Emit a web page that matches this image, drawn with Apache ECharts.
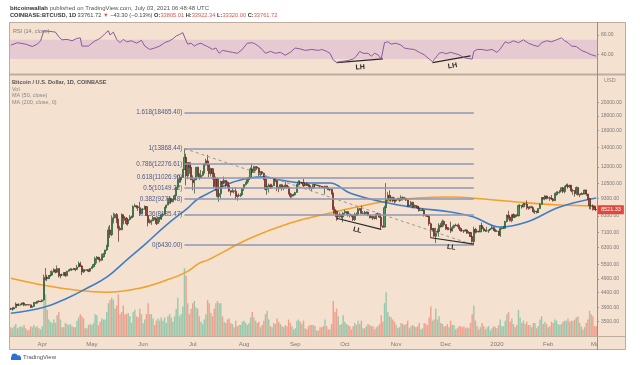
<!DOCTYPE html>
<html><head><meta charset="utf-8">
<script src="https://cdn.jsdelivr.net/npm/echarts@6/dist/echarts.min.js"></script>
<style>html,body{margin:0;padding:0;background:#fff}#c{width:640px;height:365px}</style>
</head><body><div id="c"></div>
<script>
// Daily candles [open, close, low, high], first day 2019-03-13
const candlesMar19 = [[3870,3860,3830,3900],[3860,3860,3810,3920],[3860,3900,3855,3930],[3900,4010,3895,4070],[4010,3980,3960,4015],[3980,3985,3950,4035],[3985,4020,3970,4030],[4020,4050,4000,4060],[4050,3980,3950,4070],[3980,3995,3965,4010],[3995,4000,3980,4010],[4000,3990,3970,4005],[3990,3915,3890,3995],[3915,3940,3905,3950],[3940,4070,3935,4080],[4070,4045,4030,4075],[4045,4105,4040,4120],[4105,4095,4070,4145],[4095,4105,4085,4115]];
const candlesApr19 = [[4105,4145,4080,4160],[4145,4905,4140,5080],[4905,4975,4850,5350],[4975,4915,4820,5070],[4915,5040,4905,5060],[5040,5060,4990,5230],[5060,5200,5050,5260],[5200,5280,5170,5345],[5280,5180,5130,5290],[5180,5330,5160,5465],[5330,5030,4960,5340],[5030,5075,4930,5100],[5075,5070,5040,5120],[5070,5160,5030,5180],[5160,5030,4990,5190],[5030,5220,5020,5230],[5220,5260,5210,5290],[5260,5300,5255,5350],[5300,5280,5230,5340],[5280,5330,5270,5360],[5330,5290,5220,5340],[5290,5400,5275,5490],[5400,5540,5390,5640],[5540,5440,5400,5630],[5440,5190,5060,5490],[5190,5270,5150,5310],[5270,5260,5240,5300],[5260,5280,5235,5300],[5280,5220,5180,5290],[5220,5330,5210,5350]];
const candlesMay19 = [[5330,5400,5320,5420],[5400,5500,5390,5540],[5500,5780,5490,5860],[5780,5830,5550,5890],[5830,5740,5700,5850],[5740,5690,5600,5760],[5690,5850,5680,6000],[5850,5990,5820,6040],[5990,6180,5980,6190],[6180,6350,6140,6450],[6350,7250,6340,7450],[7250,6980,6800,7540],[6980,7810,6900,8150],[7810,7990,7640,8320],[7990,8200,7960,8270],[8200,7880,7650,8300],[7880,7350,6600,7940],[7350,7260,7220,7490],[7260,8190,7250,8280],[8190,7980,7580,8200],[7980,7950,7800,8100],[7950,7630,7550,8040],[7630,7880,7500,7950],[7880,7990,7820,8170],[7990,8050,7970,8130],[8050,8740,8000,8830],[8740,8790,8690,8940],[8790,8720,8600,8820],[8720,8660,8440,8740],[8660,8280,8100,9080],[8280,8550,8220,8580]];
const candlesJun19 = [[8550,8560,8460,8630],[8560,8740,8540,8820],[8740,8150,8100,8750],[8150,7690,7460,8150],[7690,7800,7620,7920],[7800,7800,7550,7880],[7800,8000,7780,8120],[8000,7930,7830,8040],[7930,7630,7540,7960],[7630,8020,7590,8050],[8020,7920,7710,8050],[7920,8180,7850,8250],[8180,8230,8030,8310],[8230,8690,8160,8700],[8690,8840,8620,8860],[8840,8980,8830,9390],[8980,9320,8980,9460],[9320,9080,8950,9330],[9080,9270,9040,9300],[9270,9530,9210,9600],[9530,10200,9530,10230],[10200,10700,10000,11200],[10700,10850,10560,11250],[10850,11020,10560,11080],[11020,11750,10990,11800],[11750,12930,11700,13868.44],[12930,11160,10350,13300],[11160,12400,10850,12450],[12400,11960,11350,12400],[11960,10820,10800,12190]];
const candlesJul19 = [[10820,10580,9950,11200],[10580,10800,9700,10930],[10800,11960,10800,11970],[11960,11220,11080,12000],[11220,10980,10820,11400],[10980,11210,10980,11700],[11210,11450,11120,11600],[11450,12290,11370,12330],[12290,12570,12120,12800],[12570,12160,11600,13200],[12160,11360,11050,12160],[11360,11820,11100,11900],[11820,11390,10850,11840],[11390,10260,10160,11450],[10260,10900,9900,11100],[10900,9480,9380,11000],[9480,9690,9080,9930],[9690,10660,9300,10750],[10660,10530,10150,10750],[10530,10770,10430,11100],[10770,10600,10150,10800],[10600,10340,10100,10680],[10340,9900,9830,10350],[9900,9810,9530,9930],[9810,9910,9790,10180],[9910,9870,9700,9930],[9870,9480,9230,10190],[9480,9550,9160,9610],[9550,9520,9430,9710],[9520,9600,9420,9730],[9600,10090,9600,10120]];
const candlesAug19 = [[10090,10410,9900,10450],[10410,10530,10330,10660],[10530,10820,10510,10930],[10820,10980,10590,11070],[10980,11800,10980,11940],[11800,11470,11300,12320],[11470,11980,11450,12090],[11980,11990,11600,12000],[11990,11870,11700,12050],[11870,11290,11150,11950],[11290,11530,11140,11560],[11530,11390,11250,11580],[11390,10880,10780,11450],[10880,10030,9950,10910],[10030,10300,9600,10450],[10300,10360,9770,10500],[10360,10220,10050,10480],[10220,10320,10100,10470],[10320,10920,10300,10950],[10920,10760,10620,10960],[10760,10130,9890,10800],[10130,10110,9800,10240],[10110,10400,10080,10450],[10400,10140,9920,10420],[10140,10140,9950,10330],[10140,10370,10140,10640],[10370,10180,10080,10380],[10180,9720,9620,10290],[9720,9490,9350,9720],[9490,9590,9380,9690],[9590,9600,9480,9680]];
const candlesSep19 = [[9600,9770,9560,9830],[9770,10390,9770,10450],[10390,10620,10330,10790],[10620,10580,10420,10770],[10580,10580,10460,10650],[10580,10320,10200,10890],[10320,10480,10310,10560],[10480,10400,10290,10590],[10400,10320,10100,10480],[10320,10110,9990,10390],[10110,10160,9870,10220],[10160,10420,10050,10450],[10420,10360,10170,10440],[10360,10360,10310,10420],[10360,10310,10270,10380],[10310,10270,10110,10360],[10270,10190,10160,10280],[10190,10160,10130,10260],[10160,10280,9620,10300],[10280,10170,10060,10300],[10170,9990,9970,10170],[9990,10030,9880,10070],[10030,9690,9610,10040],[9690,8530,8220,9770],[8530,8430,8250,8730],[8430,8060,7800,8450],[8060,8190,7860,8270],[8190,8210,8000,8330],[8210,8050,7940,8220],[8050,8300,7710,8340]];
const candlesOct19 = [[8300,8340,8180,8520],[8340,8390,8220,8400],[8390,8240,8070,8400],[8240,8160,8010,8250],[8160,8150,8030,8180],[8150,7870,7790,8170],[7870,8210,7790,8320],[8210,8180,8110,8340],[8180,8590,8120,8680],[8590,8590,8460,8640],[8590,8270,8250,8800],[8270,8300,8280,8430],[8300,8280,8180,8440],[8280,8360,8230,8400],[8360,8160,8100,8400],[8160,8000,7950,8170],[8000,8080,7960,8120],[8080,7960,7850,8120],[7960,7950,7890,8090],[7950,8240,7870,8300],[8240,8230,8180,8330],[8230,8030,8020,8300],[8030,7470,7300,8030],[7470,7420,7360,7500],[7420,8660,7400,8800],[8660,9250,8630,10540],[9250,9550,9110,9800],[9550,9220,9150,9950],[9220,9420,9080,9550],[9420,9170,9050,9430],[9170,9150,8960,9400]];
const candlesNov19 = [[9150,9250,9030,9290],[9250,9310,9220,9390],[9310,9200,9080,9370],[9200,9410,9140,9560],[9410,9310,9170,9460],[9310,9340,9270,9440],[9340,9200,9140,9370],[9200,8770,8710,9230],[8770,8810,8770,8870],[8810,9040,8770,9140],[9040,8720,8620,9070],[8720,8810,8680,8880],[8810,8760,8730,8840],[8760,8640,8570,8790],[8640,8460,8400,8750],[8460,8490,8440,8530],[8490,8500,8430,8640],[8500,8170,8070,8510],[8170,8120,8070,8200],[8120,8080,8040,8180],[8080,7620,7500,8140],[7620,7280,6790,7690],[7280,7330,7150,7350],[7330,6900,6870,7370],[6900,7130,6530,7380],[7130,7160,7080,7320],[7160,7530,6870,7650],[7530,7440,7380,7660],[7440,7760,7420,7880],[7760,7570,7460,7820]];
const candlesDec19 = [[7570,7400,7250,7570],[7400,7300,7230,7420],[7300,7300,7240,7420],[7300,7200,7080,7750],[7200,7390,7170,7500],[7390,7530,7330,7560],[7530,7500,7470,7620],[7500,7520,7420,7580],[7520,7340,7300,7640],[7340,7220,7160,7400],[7220,7200,7150,7270],[7200,7190,7080,7250],[7190,7250,7180,7300],[7250,7070,7030,7260],[7070,7110,7030,7190],[7110,6880,6850,7130],[6880,6610,6560,6940],[6610,7280,6430,7440],[7280,7150,7040,7370],[7150,7190,7080,7220],[7190,7140,7110,7200],[7140,7510,7130,7520],[7510,7320,7270,7690],[7320,7250,7160,7440],[7250,7200,7130,7270],[7200,7200,7150,7440],[7200,7250,7080,7270],[7250,7310,7250,7370],[7310,7390,7290,7520],[7390,7220,7190,7410],[7220,7170,7130,7320]];
const candlesJan20 = [[7170,7180,7150,7250],[7180,6950,6910,7200],[6950,7340,6860,7400],[7340,7350,7270,7400],[7350,7350,7310,7490],[7350,7760,7340,7800],[7760,8150,7700,8200],[8150,8040,7880,8450],[8040,7810,7760,8050],[7810,8190,7710,8190],[8190,8020,8000,8280],[8020,8180,7970,8190],[8180,8110,8050,8200],[8110,8810,8110,8880],[8810,8820,8600,8900],[8820,8720,8600,8840],[8720,8900,8690,9000],[8900,8910,8800,9000],[8910,8700,8520,9180],[8700,8630,8520,8730],[8630,8730,8560,8770],[8730,8660,8630,8800],[8660,8380,8310,8670],[8380,8430,8230,8520],[8430,8340,8270,8430],[8340,8600,8300,8610],[8600,8900,8580,8980],[8900,9390,8880,9410],[9390,9290,9240,9430],[9290,9500,9190,9560],[9500,9340,9250,9520]];
const candlesFeb20 = [[9340,9380,9320,9450],[9380,9330,9150,9470],[9330,9290,9210,9590],[9290,9160,9090,9310],[9160,9610,9150,9750],[9610,9750,9540,9860],[9750,9800,9720,9880],[9800,9900,9680,9950],[9900,10150,9880,10160],[10150,9850,9730,10190],[9850,10270,9710,10300],[10270,10350,10260,10480],[10350,10230,10080,10500],[10230,10360,10130,10390],[10360,9900,9800,10380],[9900,9930,9600,10060],[9930,9700,9460,9970],[9700,10180,9580,10260],[10180,9600,9550,10200],[9600,9610,9420,9690],[9610,9690,9580,9790],[9690,9660,9580,9700],[9660,9970,9650,9990],[9970,9660,9520,9990],[9660,9310,9240,9670],[9310,8790,8560,9370],[8790,8790,8530,8980],[8790,8700,8460,8890],[8700,8530,8520,8800]];
const candlesMar20 = [[8530,8521.33,8430,8760]];

// Daily volume (thousand BTC)
const volumes = [
8,7,9,11,7,8,9,8,10,7,5,6,9,8,10,8,9,7,6,
9,45,38,24,15,13,12,15,12,19,22,15,8,8,12,11,10,11,9,8,8,14,17,20,18,16,7,7,10,11,
10,12,20,19,10,13,16,15,15,22,30,33,35,33,25,28,38,20,22,28,20,20,21,18,12,22,24,18,17,25,20,
12,15,20,30,20,20,16,10,14,16,14,17,14,17,12,18,20,17,13,18,25,35,18,20,27,62,55,30,20,25,
30,32,26,25,18,13,11,15,20,33,30,21,18,25,30,32,30,30,18,13,12,15,16,12,11,8,14,9,10,10,13,
14,12,10,12,17,22,17,14,12,13,8,10,14,20,23,15,9,8,12,11,16,13,11,9,8,10,9,15,12,9,6,
7,14,15,13,11,14,7,6,9,10,10,10,9,5,5,8,8,9,15,9,6,6,11,32,22,25,18,10,11,19,
13,11,10,9,6,9,12,10,14,11,14,7,7,9,11,10,9,9,6,8,9,11,19,13,30,40,22,18,17,15,13,
10,7,8,12,11,10,11,14,7,9,10,9,8,9,12,6,7,12,11,10,17,27,14,15,25,15,18,12,11,9,
9,11,8,14,10,10,6,7,9,9,8,9,7,8,7,12,20,28,14,9,6,8,12,9,6,8,9,5,7,9,8,
7,10,15,9,9,14,20,22,13,16,11,8,10,24,17,12,14,11,13,10,10,8,12,12,7,9,15,18,11,13,11,
8,9,13,12,15,14,11,10,11,13,14,14,16,13,14,14,15,17,18,12,9,6,8,12,15,23,20,18,9,
9];

// Moving averages: [day index, value]
const ma50 = [[0,3731],[20,3914],[34,4206],[46,4557],[58,4975],[70,5701],[82,6530],[94,7541],[107,8638],[114,9356],[133,10548],[145,10981],[153,11070],[163,10804],[177,10548],[193,10548],[205,9739],[225,9062],[246,8638],[266,8367],[280,8040],[296,7420],[312,7722],[332,8708],[354,9356]];
const ma200 = [[0,4936],[20,4667],[40,4484],[58,4413],[78,4557],[94,4857],[106,5179],[114,5565],[119,5701],[145,6796],[169,7661],[193,8302],[215,8847],[228,9135],[246,9356],[266,9432],[286,9284],[306,9062],[332,8847],[354,8780]];

// RSI(14): [day index, value]
const rsi = [[0,59],[4,64],[9,61],[13,56],[16,61],[18,68],[19,70],[20,89],[25,87],[27,86],[29,76],[31,70],[34,71],[37,68],[40,73],[42,74],[43,57],[47,57],[49,63],[51,68],[53,71],[55,76],[57,83],[59,89],[60,80],[62,86],[64,71],[66,64],[68,71],[70,66],[73,68],[76,63],[79,69],[81,57],[84,50],[87,53],[90,57],[93,64],[96,68],[98,72],[100,78],[102,81],[104,85],[105,88],[106,68],[107,61],[109,63],[111,57],[113,61],[115,63],[117,59],[119,56],[122,50],[124,53],[126,42],[128,48],[131,46],[134,44],[137,42],[140,50],[143,63],[146,64],[148,61],[150,56],[152,50],[154,42],[157,46],[160,42],[163,44],[166,38],[169,44],[172,53],[175,51],[178,48],[182,50],[186,48],[188,50],[191,46],[193,42],[195,28],[197,23],[200,25],[204,27],[207,30],[209,36],[211,46],[213,42],[216,42],[218,36],[220,42],[222,39],[224,30],[226,64],[228,66],[230,61],[233,63],[236,59],[238,53],[241,51],[244,50],[247,44],[250,39],[253,30],[255,25],[257,33],[259,42],[261,44],[263,41],[266,44],[268,42],[271,39],[274,33],[277,31],[279,30],[280,46],[282,50],[285,50],[288,48],[291,50],[294,44],[296,51],[299,66],[301,63],[304,68],[307,64],[310,70],[313,63],[316,59],[319,56],[321,64],[324,68],[327,66],[330,70],[333,74],[335,68],[337,64],[339,57],[342,56],[345,48],[348,44],[351,39],[354,36]];

// Fibonacci retracement (anchor high 2019-06-26, low 2019-12-18)
const fibRatios = ['1.618','1','0.786','0.618','0.5','0.382','0.236','0'];
const fibPrices = [18465.40,13868.44,12276.61,11026.96,10149.22,9271.48,8185.47,6430.00];
const fibStartIdx = 105, fibEndIdx = 280;
// Trend annotations [startIdx, startVal, endIdx, endVal]
const priceLL = [[197,7959,224,7286],[254,6813,280,6478]];
const rsiLH = [[197,22.6,225,30.3],[255,22.6,278,36.5]];
const priceTicks = [3500,3900,4400,4900,5500,6300,7100,8100,9300,10500,12000,14000,16000,18000,20000];
const rsiTicks = [40,80];
const lastPrice = 8521.33;

const candles = [].concat(candlesMar19,candlesApr19,candlesMay19,candlesJun19,candlesJul19,candlesAug19,candlesSep19,candlesOct19,candlesNov19,candlesDec19,candlesJan20,candlesFeb20,candlesMar20);
const dates = [];
(function(){ const d0 = Date.UTC(2019,2,13); for (let i=0;i<candles.length;i++){ dates.push(new Date(d0+i*86400000).toISOString().slice(0,10)); } })();
const monthNames = {'01':'2020','02':'Feb','03':'Mar','04':'Apr','05':'May','06':'Jun','07':'Jul','08':'Aug','09':'Sep','10':'Oct','11':'Nov','12':'Dec'};

const FONT = 'Liberation Sans, Arial, sans-serif';
const BG = '#f4e1d0';
const FRAME = '#bcad9f';

const volData = volumes.map((v,i)=>({value:v, itemStyle:{color: candles[i][1]>=candles[i][0] ? 'rgba(96,186,150,0.62)' : 'rgba(238,120,100,0.62)'}}));

const markLines = [];
fibPrices.forEach((p,k)=>{
  markLines.push([{coord:[dates[fibStartIdx],p], lineStyle:{color:'#8d97b3',width:1.5,type:'solid'},
    label:{show:true,position:'start',distance:2,formatter:fibRatios[k]+'('+p.toFixed(2)+')',color:'#4d5b8a',fontSize:6.3,fontFamily:FONT}},
    {coord:[dates[fibEndIdx],p]}]);
});
markLines.push([{coord:[dates[fibStartIdx],fibPrices[1]], lineStyle:{color:'#9a9590',width:1,type:[3,3]}, label:{show:false}},{coord:[dates[fibEndIdx],fibPrices[7]]}]);
priceLL.forEach(s=>{
  markLines.push([{coord:[dates[s[0]],s[1]], lineStyle:{color:'#2a2a2a',width:1.2,type:'solid'},
    label:{show:true,formatter:'LL',position:'insideMiddleBottom',distance:3,color:'#222',fontWeight:'bold',fontSize:7,fontFamily:FONT}},
    {coord:[dates[s[2]],s[3]]}]);
});
markLines.push({yAxis:lastPrice, lineStyle:{color:'rgba(0,0,0,0)',width:0}, label:{show:true,position:'end',distance:1,formatter:lastPrice.toFixed(2),backgroundColor:'#e2473f',color:'#fff',padding:[2,3,1,3],fontSize:5.5,fontFamily:FONT}});

const lhLines = rsiLH.map(s=>[{coord:[dates[s[0]],s[1]], lineStyle:{color:'#2a2a2a',width:1.2,type:'solid'},
    label:{show:true,formatter:'LH',position:'insideMiddleBottom',distance:3,color:'#222',fontWeight:'bold',fontSize:7,fontFamily:FONT}},
    {coord:[dates[s[2]],s[3]]}]);

const chart = echarts.init(document.getElementById('c'), null, {renderer:'canvas'});
chart.setOption({
  animation:false,
  backgroundColor:'#ffffff',
  textStyle:{fontFamily:FONT},
  grid:[
    {left:10, top:23, width:587, height:50},
    {left:10, top:76, width:587, height:260},
    {left:10, top:266, width:587, height:70}
  ],
  xAxis:[
    {gridIndex:0, type:'category', data:dates, boundaryGap:true, show:false},
    {gridIndex:1, type:'category', data:dates, boundaryGap:true,
      axisLine:{show:false}, axisTick:{show:false}, splitLine:{show:false},
      axisLabel:{interval:(i,v)=>v.slice(8)==='01', formatter:v=>monthNames[v.slice(5,7)], fontSize:6, color:'#7a7a7a', margin:5, fontFamily:FONT}},
    {gridIndex:2, type:'category', data:dates, boundaryGap:true, show:false}
  ],
  yAxis:[
    {gridIndex:0, type:'value', min:1, max:105, position:'right', splitLine:{show:false}, axisLine:{show:false},
      axisTick:{show:true, customValues:rsiTicks, length:2, lineStyle:{color:'#999'}},
      axisLabel:{customValues:rsiTicks, formatter:v=>v.toFixed(2), fontSize:5, color:'#7a7a7a', margin:4, fontFamily:FONT}},
    {gridIndex:1, type:'log', logBase:10, min:3113, max:24749, position:'right', splitLine:{show:false}, axisLine:{show:false},
      axisTick:{show:true, customValues:priceTicks, length:2, lineStyle:{color:'#999'}},
      axisLabel:{customValues:priceTicks, formatter:v=>v.toFixed(2), fontSize:5, color:'#7a7a7a', margin:4, fontFamily:FONT}},
    {gridIndex:2, type:'value', min:0, max:64, show:false}
  ],
  series:[
    {type:'line', xAxisIndex:0, yAxisIndex:0, data:rsi.map(r=>[dates[r[0]],r[1]]), showSymbol:false,
      lineStyle:{color:'#8a5a9c', width:1}, z:5,
      markArea:{silent:true, itemStyle:{color:'rgba(160,90,220,0.17)'}, data:[[{yAxis:30},{yAxis:70}]]},
      markLine:{silent:true, symbol:['none','none'], data:lhLines}},
    {type:'bar', xAxisIndex:2, yAxisIndex:2, data:volData, barWidth:'85%', z:1},
    {type:'line', xAxisIndex:1, yAxisIndex:1, data:ma200.map(r=>[dates[r[0]],r[1]]), smooth:0.4, showSymbol:false,
      lineStyle:{color:'#f2a12c', width:1.6}, z:3},
    {type:'line', xAxisIndex:1, yAxisIndex:1, data:ma50.map(r=>[dates[r[0]],r[1]]), smooth:0.4, showSymbol:false,
      lineStyle:{color:'#3f7ec6', width:1.6}, z:3},
    {type:'candlestick', xAxisIndex:1, yAxisIndex:1, data:candles, barWidth:1.7, z:4,
      itemStyle:{color:'#4a9762', color0:'#a8453a', borderColor:'#24502f', borderColor0:'#5e211b', borderWidth:0.7},
      markLine:{silent:true, symbol:['none','none'], data:markLines}}
  ],
  graphic:{elements:[
    {type:'rect', silent:true, z:-100, shape:{x:9,y:22,width:617,height:328}, style:{fill:BG}},
    {type:'rect', silent:true, z:90, shape:{x:598,y:337,width:27,height:12}, style:{fill:BG}},
    {type:'rect', silent:true, z:100, shape:{x:9.5,y:22.5,width:616,height:327}, style:{fill:'none', stroke:FRAME, lineWidth:1}},
    {type:'line', silent:true, z:100, shape:{x1:9,y1:74.5,x2:626,y2:74.5}, style:{stroke:FRAME, lineWidth:2}},
    {type:'line', silent:true, z:100, shape:{x1:597.5,y1:22,x2:597.5,y2:350}, style:{stroke:'#9d8e80', lineWidth:1}},
    {type:'line', silent:true, z:100, shape:{x1:9,y1:336.5,x2:626,y2:336.5}, style:{stroke:FRAME, lineWidth:1}},
    {type:'text', silent:true, z:100, x:10, y:8, style:{text:'{b|bitcoinwallah} published on TradingView.com, July 03, 2021 06:48:48 UTC', fill:'#555', fontSize:6, fontFamily:FONT, verticalAlign:'middle',
      rich:{b:{fontWeight:'bold', fill:'#333', fontSize:6, fontFamily:FONT}}}},
    {type:'text', silent:true, z:100, x:10, y:15.5, style:{text:'{b|COINBASE:BTCUSD, 1D} 33761.72 {r|▼} −43.30 (−0.13%) {b|O:}{r|33805.01} {b|H:}{r|33922.34} {b|L:}{r|33320.00} {b|C:}{r|33761.72}', fill:'#444', fontSize:5.7, fontFamily:FONT, verticalAlign:'middle',
      rich:{b:{fontWeight:'bold', fill:'#333', fontSize:5.7, fontFamily:FONT}, r:{fill:'#e0544a', fontSize:5.7, fontFamily:FONT}}}},
    {type:'text', silent:true, z:100, x:13, y:31, style:{text:'RSI (14, close)', fill:'#7a7a7a', fontSize:5.5, fontFamily:FONT, verticalAlign:'middle'}},
    {type:'text', silent:true, z:100, x:12, y:82, style:{text:'Bitcoin / U.S. Dollar, 1D, COINBASE', fill:'#555', fontSize:5.6, fontWeight:'bold', fontFamily:FONT, verticalAlign:'middle'}},
    {type:'text', silent:true, z:100, x:12, y:89, style:{text:'Vol', fill:'#888', fontSize:5.5, fontFamily:FONT, verticalAlign:'middle'}},
    {type:'text', silent:true, z:100, x:12, y:95.5, style:{text:'MA (50, close)', fill:'#888', fontSize:5.5, fontFamily:FONT, verticalAlign:'middle'}},
    {type:'text', silent:true, z:100, x:12, y:102, style:{text:'MA (200, close, 0)', fill:'#888', fontSize:5.5, fontFamily:FONT, verticalAlign:'middle'}},
    {type:'text', silent:true, z:100, x:604, y:80, style:{text:'USD', fill:'#888', fontSize:5.5, fontFamily:FONT, verticalAlign:'middle'}},
    {type:'circle', silent:true, z:100, shape:{cx:14.5,cy:356.5,r:3}, style:{fill:'#2f6fd6'}},
    {type:'circle', silent:true, z:100, shape:{cx:18.5,cy:357.5,r:2.3}, style:{fill:'#2f6fd6'}},
    {type:'rect', silent:true, z:100, shape:{x:11,y:357,width:10,height:3}, style:{fill:'#2f6fd6'}},
    {type:'text', silent:true, z:100, x:23, y:357.5, style:{text:'TradingView', fill:'#555', fontSize:6, fontFamily:FONT, verticalAlign:'middle'}}
  ]}
});
</script>
</body></html>
